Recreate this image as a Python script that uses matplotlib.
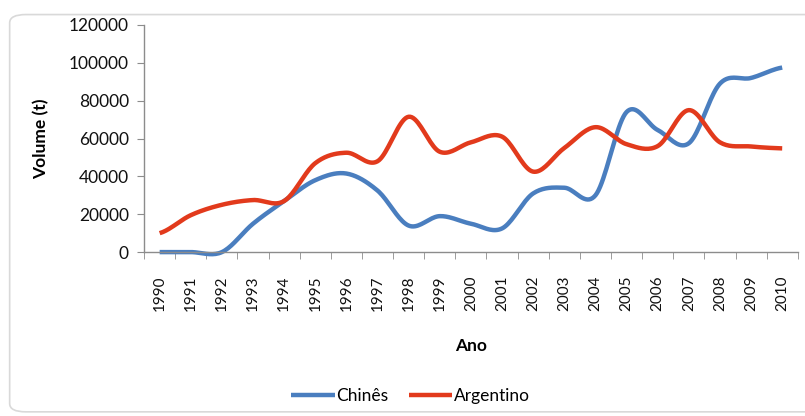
import numpy as np
import matplotlib.pyplot as plt
from matplotlib.patches import FancyBboxPatch

# volumes por ano (t)
anos = list(range(1990, 2011))
chines = [0, 0, 0, 15000, 27000, 38000, 41500, 32500, 14000, 19000, 15000,
          12500, 31000, 34000, 30000, 74000, 64500, 57500, 89000, 92000, 97500]
argentino = [10000, 19500, 25000, 27500, 27000, 47000, 52500, 48000, 71500, 53000, 58000,
             61000, 42500, 55000, 66000, 57000, 56000, 75000, 58000, 55800, 54800]
rotulos = [str(a) for a in anos]


def suaviza(y, n=20, t=0.5):
    # curva tipo Catmull-Rom entre os pontos, como a linha suavizada do Excel
    y = np.asarray(y, dtype=float)
    x = np.arange(len(y), dtype=float)
    px = np.concatenate([[2 * x[0] - x[1]], x, [2 * x[-1] - x[-2]]])
    py = np.concatenate([[y[0]], y, [y[-1]]])
    xs, ys = [], []
    for i in range(1, len(px) - 2):
        s = np.linspace(0, 1, n, endpoint=False)
        for arr, out in ((px, xs), (py, ys)):
            p0, p1, p2, p3 = arr[i - 1], arr[i], arr[i + 1], arr[i + 2]
            m1 = t * (p2 - p0)
            m2 = t * (p3 - p1)
            h00 = 2 * s**3 - 3 * s**2 + 1
            h10 = s**3 - 2 * s**2 + s
            h01 = -2 * s**3 + 3 * s**2
            h11 = s**3 - s**2
            out.extend(h00 * p1 + h10 * m1 + h01 * p2 + h11 * m2)
    xs.append(x[-1])
    ys.append(y[-1])
    return np.array(xs), np.array(ys)


plt.rcParams['font.family'] = ['Lato', 'DejaVu Sans']

fig = plt.figure(figsize=(8.05, 4.16), dpi=100)
fig.patch.set_facecolor('white')
moldura = FancyBboxPatch((0.012, 0.01), 1.2, 0.955, boxstyle='round,pad=0,rounding_size=0.02',
                         transform=fig.transFigure, facecolor='white', edgecolor='#d9d9d9',
                         linewidth=1.2, zorder=-1)
fig.patches.append(moldura)

ax = fig.add_axes([0.179, 0.394, 0.812, 0.546])

cor_azul = '#4a7ebf'
cor_verm = '#e23a1c'
xc, yc = suaviza(chines)
xa, ya = suaviza(argentino)
ax.plot(xc, yc, color=cor_azul, lw=3.2, solid_capstyle='butt', label='Chinês', clip_on=False)
ax.plot(xa, ya, color=cor_verm, lw=3.2, solid_capstyle='butt', label='Argentino', clip_on=False)

ax.set_xlim(-0.5, len(anos) - 0.5)
ax.set_ylim(0, 120000)
ax.set_yticks(range(0, 120001, 20000))
ax.set_yticklabels([str(v) for v in range(0, 120001, 20000)], fontsize=12.5, color='#111111')
ax.set_xticks(np.arange(len(anos)))
ax.set_xticklabels(rotulos, rotation=90, fontsize=11, color='#111111')
ax.set_xticks(np.arange(-0.5, len(anos)), minor=True)
ax.tick_params(axis='x', which='major', length=0, pad=17)
ax.tick_params(axis='x', which='minor', length=5, color='#8c8c8c', direction='out')
ax.tick_params(axis='y', length=5, color='#8c8c8c', direction='out', pad=6)

for lado in ['top', 'right']:
    ax.spines[lado].set_visible(False)
for lado in ['left', 'bottom']:
    ax.spines[lado].set_color('#8c8c8c')
    ax.spines[lado].set_linewidth(1.0)

ax.set_xlabel('Ano', fontsize=12.5, fontweight='bold', labelpad=19)
ax.set_ylabel('Volume (t)', fontsize=12.5, fontweight='bold', labelpad=14)

fig.legend(loc='center', bbox_to_anchor=(0.51, 0.048), ncol=2, frameon=False,
           fontsize=12.5, handlelength=2.5, handletextpad=0.1, columnspacing=1.15)

fig.savefig('out.png', dpi=100)
